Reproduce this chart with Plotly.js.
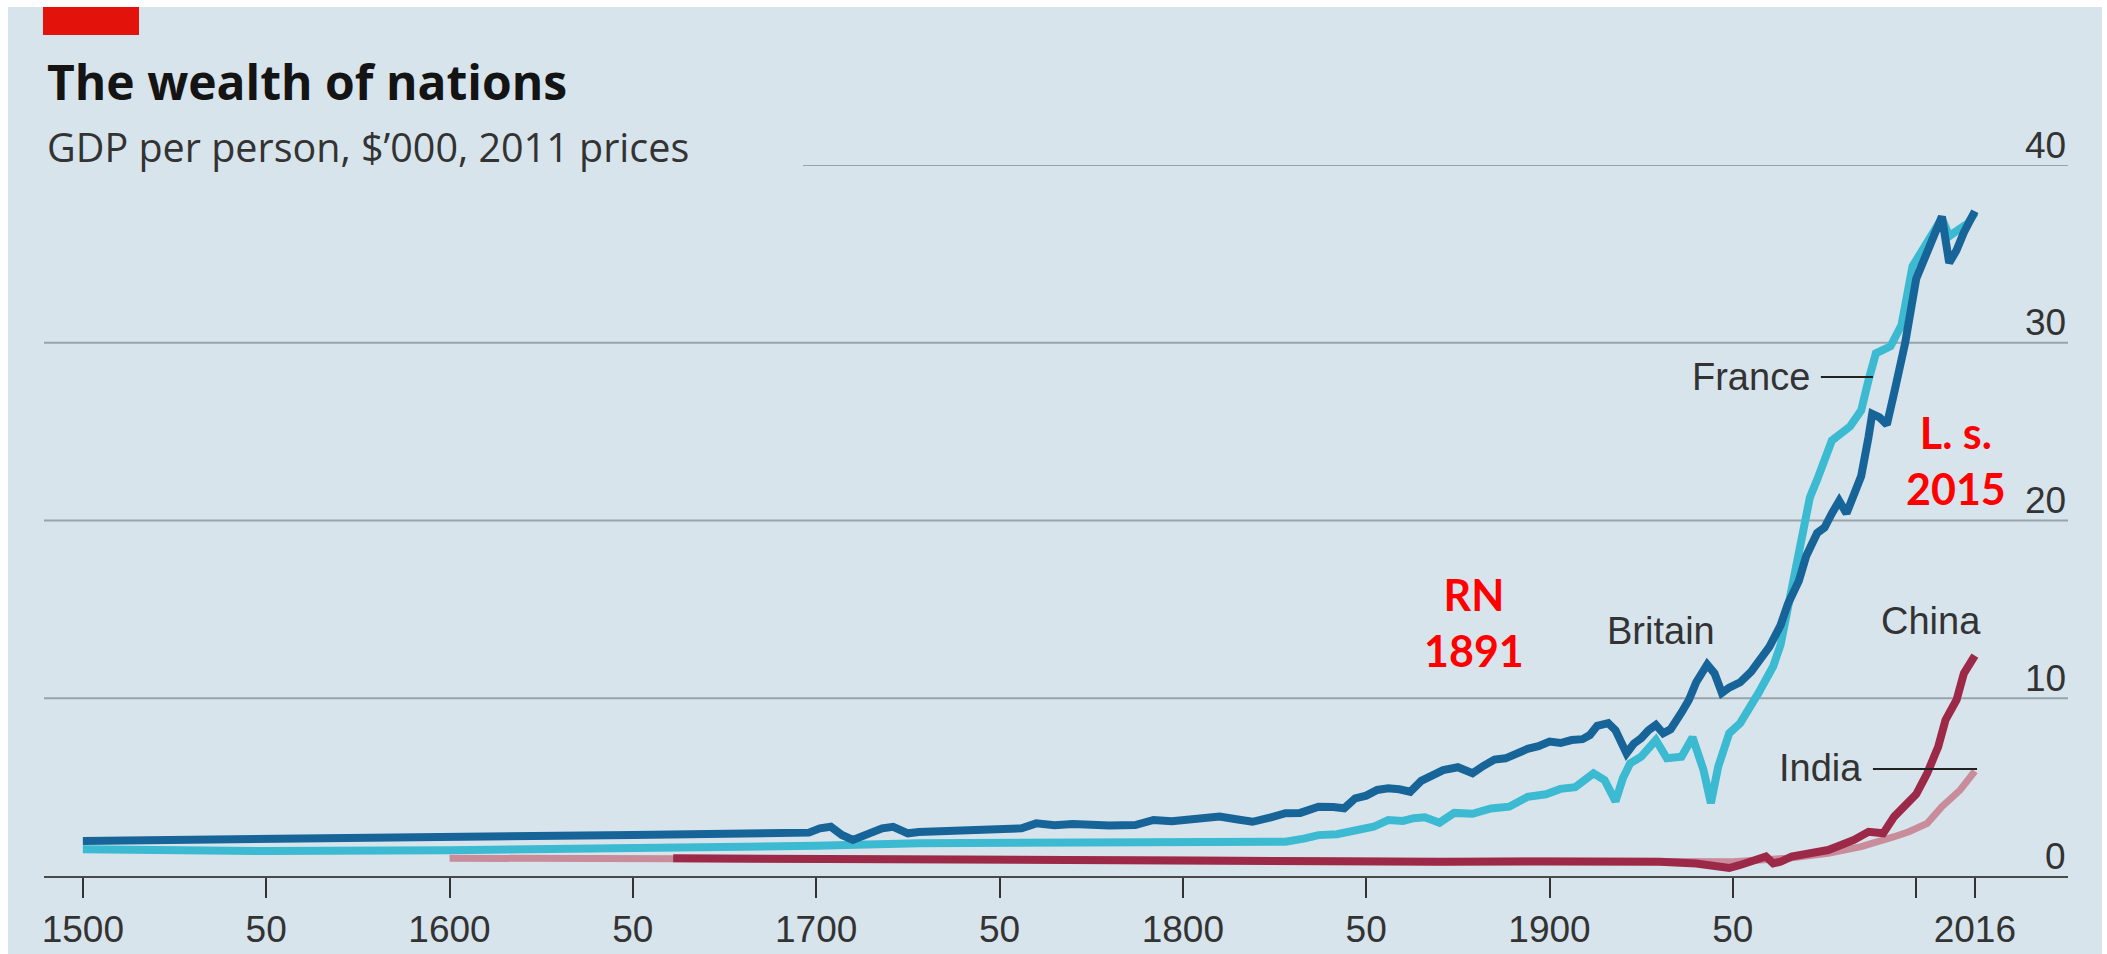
<!DOCTYPE html>
<html><head><meta charset="utf-8">
<script src="https://cdn.plot.ly/plotly-3.0.1.min.js"></script>
<style>
html,body{margin:0;padding:0;background:#ffffff;}
#chart{position:absolute;left:8px;top:7px;width:2094px;height:947px;}
</style></head><body><div id="chart"></div>
<script>
// ---- data (GDP per person, $'000, 2011 prices) ----
const britainYears = [1500,1550,1600,1650,1698,1701,1704,1707,1710,1714,1718,1721,1725,1728,1735,1742,1750,1756,1760,1765,1770,1774,1780,1787,1792,1797,1802,1806,1810,1815,1819,1824,1828,1832,1837,1841,1844,1847,1850,1853,1856,1859,1862,1865,1868,1871,1875,1879,1882,1885,1888,1891,1894,1897,1900,1903,1906,1909,1911,1913,1916,1918,1921,1923,1925,1927,1929,1931,1933,1936,1938,1940,1943,1945,1947,1949,1952,1955,1957,1960,1963,1965,1968,1970,1973,1975,1977,1979,1981,1983,1985,1987,1988,1990,1992,1994,1997,2000,2002,2004,2007,2009,2011,2013,2016];
const britainValues = [1.97,2.06,2.21,2.31,2.44,2.68,2.77,2.31,2.03,2.40,2.68,2.77,2.40,2.47,2.52,2.49,2.58,2.68,2.96,2.85,2.92,2.87,2.84,2.87,3.15,3.08,3.22,3.30,3.34,3.18,3.05,3.30,3.53,3.55,3.90,3.88,3.81,4.37,4.52,4.84,4.93,4.88,4.74,5.35,5.62,5.96,6.12,5.78,6.20,6.55,6.62,6.90,7.15,7.30,7.56,7.48,7.65,7.70,7.93,8.45,8.60,8.20,6.90,7.45,7.75,8.20,8.50,8.03,8.25,9.20,9.90,10.9,11.9,11.4,10.3,10.6,10.9,11.5,12.1,12.9,14.1,15.3,16.6,18.0,19.3,19.6,20.4,21.1,20.4,21.5,22.5,24.7,26.0,25.8,25.4,27.2,30.0,33.6,34.6,35.8,37.1,34.5,35.2,36.2,37.4];

const franceYears = [1500,1550,1600,1650,1700,1728,1760,1790,1820,1828,1833,1837,1842,1846,1852,1856,1860,1863,1866,1870,1874,1879,1884,1889,1894,1899,1903,1907,1912,1915,1918,1920,1922,1925,1929,1932,1936,1939,1942,1944,1946,1949,1952,1957,1961,1963,1966,1968,1971,1973,1975,1977,1982,1985,1987,1989,1993,1996,1999,2003,2007,2009,2011,2014,2016];
const franceValues = [1.50,1.40,1.45,1.55,1.70,1.84,1.84,1.82,1.84,1.93,2.10,2.30,2.35,2.49,2.77,3.15,3.10,3.25,3.30,3.00,3.55,3.50,3.80,3.90,4.45,4.60,4.90,5.00,5.78,5.40,4.20,5.50,6.34,6.71,7.65,6.62,6.71,7.80,5.96,4.10,6.15,8.03,8.60,10.3,11.8,13.0,16.0,17.8,21.3,22.3,23.5,24.5,25.3,26.2,27.9,29.4,29.8,31.0,34.3,35.6,37.0,36.0,36.3,36.7,37.3];

const chinaYears = [1661,1700,1750,1800,1820,1850,1870,1900,1920,1930,1940,1945,1949,1952,1957,1959,1961,1963,1966,1970,1976,1979,1983,1987,1991,1994,1997,2000,2003,2006,2008,2011,2013,2016];
const chinaValues = [1.00,0.95,0.90,0.85,0.90,0.85,0.80,0.82,0.82,0.80,0.70,0.60,0.45,0.62,1.00,1.10,0.71,0.80,1.09,1.20,1.46,1.70,2.03,2.49,2.40,3.34,3.90,4.60,5.78,7.27,8.78,9.90,11.4,12.4];

const indiaYears = [1600,1661,1700,1800,1870,1900,1950,1957,1965,1976,1985,1994,1998,2003,2007,2012,2016];
const indiaValues = [1.00,0.98,0.95,0.90,0.80,0.85,0.80,0.90,1.00,1.28,1.65,2.21,2.49,2.96,3.90,4.84,5.90];

const xTickVals = [1500,1550,1600,1650,1700,1750,1800,1850,1900,1950,2000,2016];
const xTickText = ['1500','50','1600','50','1700','50','1800','50','1900','50','','2016'];
const yTickVals = [0,10,20,30,40];
const yTickText = ['0','10','20','30','40'];

// ---- layout helpers (page pixel -> paper fraction) ----
const DIV_L = 8, DIV_T = 7, W = 2094, H = 947;
const M = {l:36, r:34, t:158, b:78};
const PW = W - M.l - M.r, PH = H - M.t - M.b;
const px = x => (x - DIV_L - M.l) / PW;
const py = y => (H - M.b - (y - DIV_T)) / PH;

const BG = '#d8e4ec';
const TXT = '#333333';
const SANS = '"Liberation Sans", Arial, sans-serif';

const traces = [
  {name:'France', x:franceYears, y:franceValues, mode:'lines', line:{color:'#3cbad1', width:8}},
  {name:'Britain', x:britainYears, y:britainValues, mode:'lines', line:{color:'#176499', width:8}},
  {name:'India', x:indiaYears, y:indiaValues, mode:'lines', line:{color:'#c98c9b', width:7}},
  {name:'China', x:chinaYears, y:chinaValues, mode:'lines', line:{color:'#9c2947', width:8}}
];

const shapes = [];
yTickVals.forEach(v => {
  if (v === 0) return;
  shapes.push({type:'line', xref:'paper', yref:'y', x0: v === 40 ? px(803) : 0, x1:1, y0:v, y1:v,
    line:{color:'#97a4ab', width:2}, layer:'below'});
});
// red tag
shapes.push({type:'rect', xref:'paper', yref:'paper', x0:px(43), x1:px(139), y0:py(35), y1:py(7),
  fillcolor:'#e3120b', line:{width:0}});
// leader lines
shapes.push({type:'line', xref:'x', yref:'y', x0:1974.0, x1:1988.2, y0:28.07, y1:28.07, line:{color:'#222', width:2}});
shapes.push({type:'line', xref:'x', yref:'y', x0:1988.2, x1:2016.6, y0:6.02, y1:6.02, line:{color:'#222', width:2}});

const annotations = [
  {xref:'paper', yref:'paper', x:px(45), y:py(82), xanchor:'left', yanchor:'middle', showarrow:false,
   text:'The wealth of nations', font:{family:'"Open Sans", sans-serif', size:48, weight:700, color:'#141414'}},
  {xref:'paper', yref:'paper', x:px(45), y:py(147), xanchor:'left', yanchor:'middle', showarrow:false,
   text:'GDP per person, $\u2019000, 2011 prices', font:{family:'"Open Sans", sans-serif', size:39.5, color:TXT}},
  {xref:'x', yref:'y', x:1971.6, y:28.07, xanchor:'right', yanchor:'middle', showarrow:false,
   text:'France', font:{family:SANS, size:38, color:TXT}},
  {xref:'x', yref:'y', x:1930.5, y:13.8, xanchor:'center', yanchor:'middle', showarrow:false,
   text:'Britain', font:{family:SANS, size:38, color:TXT}},
  {xref:'x', yref:'y', x:2004.1, y:14.35, xanchor:'center', yanchor:'middle', showarrow:false,
   text:'China', font:{family:SANS, size:38, color:TXT}},
  {xref:'x', yref:'y', x:1985.8, y:6.05, xanchor:'right', yanchor:'middle', showarrow:false,
   text:'India', font:{family:SANS, size:38, color:TXT}},
  {xref:'x', yref:'y', x:1879.4, y:14.29, xanchor:'center', yanchor:'middle', showarrow:false, align:'center',
   text:'RN<br>1891', font:{family:'Lato, sans-serif', size:43, weight:700, color:'#ff0000'}},
  {xref:'x', yref:'y', x:2010.9, y:23.4, xanchor:'center', yanchor:'middle', showarrow:false, align:'center',
   text:'L. s.<br>2015', font:{family:'Lato, sans-serif', size:43, weight:700, color:'#ff0000'}}
];
yTickVals.forEach((v, i) => {
  annotations.push({xref:'paper', yref:'y', x:1, y:v, xanchor:'right', yanchor:'middle', yshift:20,
    showarrow:false, text:yTickText[i], font:{family:SANS, size:37, color:TXT}});
});

const layout = {
  width: W, height: H,
  margin: M,
  paper_bgcolor: BG, plot_bgcolor: BG,
  showlegend: false,
  xaxis: {range:[1489.4, 2041.4], showgrid:false, zeroline:false, showline:true, linecolor:'#4a4a4a', linewidth:2,
    ticks:'outside', ticklen:20, tickwidth:2, tickcolor:'#333', tickvals:xTickVals, ticktext:xTickText,
    tickfont:{family:SANS, size:37, color:TXT}, fixedrange:true},
  yaxis: {range:[0, 40], showgrid:false, zeroline:false, showline:false, showticklabels:false, ticks:'', fixedrange:true},
  shapes: shapes,
  annotations: annotations
};

Plotly.newPlot('chart', traces, layout, {staticPlot:true, displayModeBar:false});
</script></body></html>
